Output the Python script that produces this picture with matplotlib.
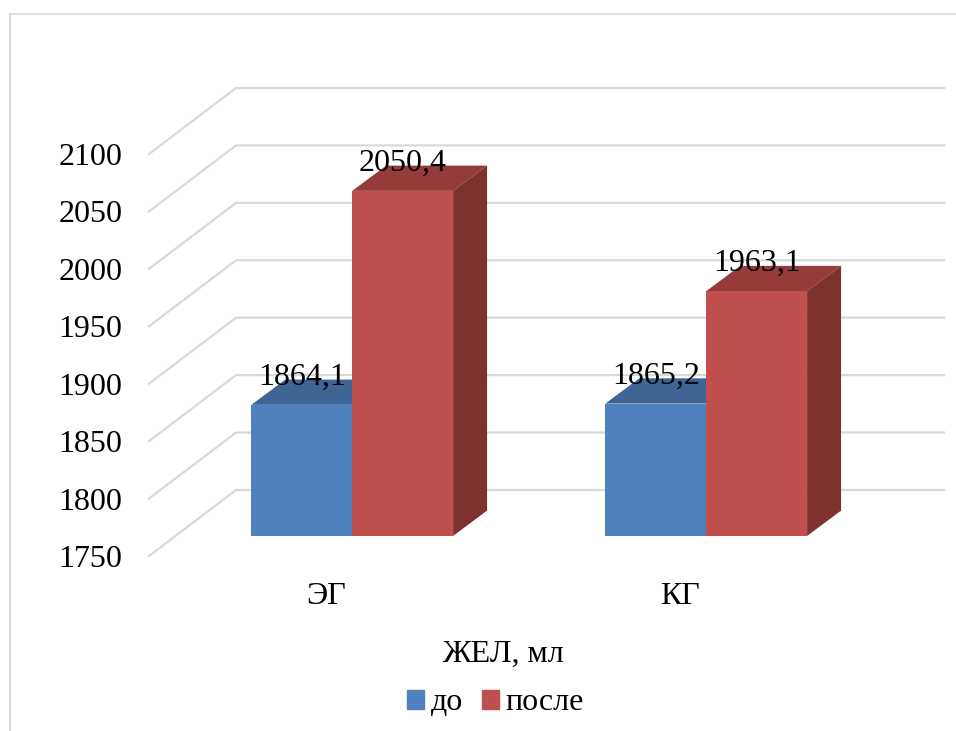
import matplotlib
matplotlib.use('Agg')
import matplotlib.pyplot as plt
from matplotlib.lines import Line2D
from matplotlib.patches import Patch, Polygon

plt.rcParams['font.family'] = ['Liberation Serif', 'DejaVu Serif']

# values
groups = ['ЭГ', 'КГ']
before = [1864.1, 1865.2]
after = [2050.4, 1963.1]
ticks = [1750, 1800, 1850, 1900, 1950, 2000, 2050, 2100]
before_labels = ['1864,1', '1865,2']
after_labels = ['2050,4', '1963,1']
series_names = ['до', 'после']
axis_title = 'ЖЕЛ, мл'

y_min = 1750
y_max = 2100

# fake 3D depth, in data units (x is category, y is ml)
floor_dx = 0.246
floor_dy = 57.5
front_dx = 0.074
front_dy = 17.5
bar_dx = 0.096
bar_dy = 22.0
bar_w = 0.285

grid_color = '#d9d9d9'
text_size = 23

fig = plt.figure(figsize=(9.56, 7.31), dpi=100)
ax = fig.add_axes([149 / 956, 175 / 731, 708 / 956, 402 / 731])
ax.set_xlim(-0.5, 1.5)
ax.set_ylim(y_min, y_max)
for s in ax.spines.values():
    s.set_visible(False)

# grey frame around the chart, open at right and bottom
fig.add_artist(Line2D([9.5 / 956, 9.5 / 956], [0, 717 / 731], color=grid_color, lw=1.5))
fig.add_artist(Line2D([9.5 / 956, 1], [717 / 731, 717 / 731], color=grid_color, lw=1.2))

# side wall and back wall grid
for t in ticks:
    ax.plot([-0.5, -0.5 + floor_dx, 1.5 + floor_dx], [t, t + floor_dy, t + floor_dy],
            color=grid_color, lw=1.6, clip_on=False, zorder=1, solid_joinstyle='miter')


def draw_bar(x, value, front, top, side, z):
    left = x + front_dx - bar_w
    right = x + front_dx
    if front == '#C0504D':
        left, right = right, right + bar_w
    base = y_min + front_dy
    peak = value + front_dy
    ax.bar(left, peak - base, width=right - left, bottom=base, align='edge',
           color=front, zorder=z + 0.2, clip_on=False)
    ax.add_patch(Polygon([(left, peak), (right, peak), (right + bar_dx, peak + bar_dy),
                          (left + bar_dx, peak + bar_dy)], closed=True, facecolor=top,
                         edgecolor='none', zorder=z, clip_on=False))
    ax.add_patch(Polygon([(right, base), (right + bar_dx, base + bar_dy),
                          (right + bar_dx, peak + bar_dy), (right, peak)], closed=True,
                         facecolor=side, edgecolor='none', zorder=z, clip_on=False))
    return (left + right) / 2, peak


for i in range(len(groups)):
    cx, peak = draw_bar(i, before[i], '#4F81BD', '#3E6594', '#2F4C70', 2)
    ax.annotate(before_labels[i], (cx, peak), xytext=(0, 19.5), textcoords='offset points',
                ha='center', va='center', fontsize=text_size, color='black', zorder=6)
    cx, peak = draw_bar(i, after[i], '#C0504D', '#953C3A', '#7D3230', 3)
    ax.annotate(after_labels[i], (cx, peak), xytext=(0, 20), textcoords='offset points',
                ha='center', va='center', fontsize=text_size, color='black', zorder=6)

ax.set_yticks(ticks)
ax.set_yticklabels([str(t) for t in ticks], fontsize=text_size)
ax.set_xticks(range(len(groups)))
ax.set_xticklabels(groups, fontsize=text_size)
ax.tick_params(axis='y', length=0, pad=19)
ax.tick_params(axis='x', length=0, pad=19)

fig.text(503 / 956, 77 / 731, axis_title, fontsize=text_size, ha='center', va='center')

handles = [Patch(color='#4F81BD'), Patch(color='#C0504D')]
fig.legend(handles, series_names, loc='center', bbox_to_anchor=(495.5 / 956, 28 / 731), ncol=2,
           frameon=False, fontsize=text_size, handlelength=0.53, handleheight=0.53,
           handletextpad=0.2, columnspacing=0.6, borderpad=0)

fig.savefig('out.png', dpi=100)
